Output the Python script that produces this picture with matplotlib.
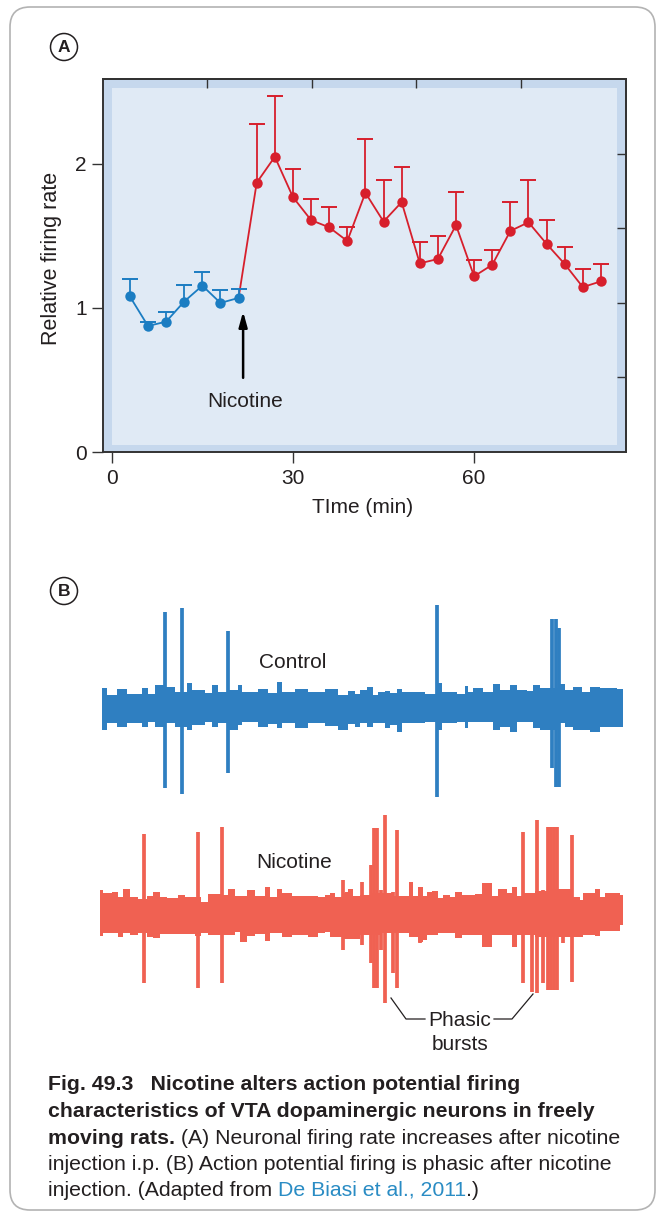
import matplotlib
matplotlib.use('Agg')
import matplotlib.pyplot as plt
from matplotlib.patches import Rectangle, FancyBboxPatch, Circle
import numpy as np

plt.rcParams['font.family'] = ['Liberation Sans', 'DejaVu Sans']

W, H, DPI = 659, 1218, 100

# ---------------- Panel A data ----------------
time_base = [3, 6, 9, 12, 15, 18, 21]
rate_base = [1.08, 0.875, 0.905, 1.045, 1.155, 1.035, 1.07]
err_base = [0.12, 0.025, 0.065, 0.115, 0.095, 0.09, 0.063]
time_nic = [24, 27, 30, 33, 36, 39, 42, 45, 48, 51, 54, 57, 60, 63, 66, 69, 72, 75, 78, 81]
rate_nic = [1.87, 2.05, 1.77, 1.61, 1.56, 1.465, 1.80, 1.60, 1.735, 1.31,
            1.34, 1.575, 1.22, 1.30, 1.535, 1.595, 1.445, 1.305, 1.145, 1.185]
err_nic = [0.41, 0.42, 0.195, 0.15, 0.14, 0.10, 0.37, 0.29, 0.245, 0.15,
           0.16, 0.23, 0.11, 0.105, 0.20, 0.295, 0.165, 0.115, 0.125, 0.12]
xticks_a = [0, 30, 60]
yticks_a = [0, 1, 2]
nicotine_time = 21.75

# ---------------- Panel B data (trace envelopes & spikes) ----------------
ctrl_edges = [7.3, 11.7, 21.7, 31.7, 46.7, 53.3, 60, 70, 80, 91.7, 96.7, 110, 116.7, 123.3,
              133.3, 143.3, 146.7, 163.3, 173.3, 181.7, 186.7, 200, 213.3, 230, 243.3, 253.3,
              260, 265, 271.7, 278.3, 283.3, 290, 295, 301.7, 306.7, 315, 330, 336.7, 341.7,
              346.7, 361.7, 370, 373.3, 378.3, 388.3, 398.3, 405, 415, 421.7, 431.7, 438.3,
              445, 456.7, 465, 470, 478.3, 486.7, 495, 505, 521.7, 528.3]
ctrl_up = [22, 15, 21, 16, 22, 16, 25, 23, 18, 27, 20, 17, 25, 18, 20, 25, 18, 21, 17, 28,
           18, 21, 18, 21, 15, 19, 16,
           20, 23, 15, 18, 19, 17, 21, 18, 18, 16, 16, 27, 18, 16, 24, 18, 22, 18, 26, 20,
           25, 20, 19, 25, 22, 22, 26, 20, 23, 18, 23, 22, 21]
ctrl_lo = [20, 13, 17, 13, 17, 12, 17, 13, 17, 20, 15, 12, 17, 13, 20, 15, 12, 17, 14, 18,
           13, 18, 13, 16, 20, 14, 17,
           13, 17, 13, 13, 18, 15, 22, 13, 13, 12, 12, 20, 13, 12, 18, 12, 12, 12, 20, 17,
           22, 12, 12, 18, 20, 20, 13, 17, 20, 20, 22, 17, 17]
ctrl_spike_t = [70, 86.7, 133.3, 341.7, 457, 461, 464]
ctrl_spike_top = [98, 102, 79, 105, 91, 91, 82]
ctrl_spike_bot = [78, 84, 63, 87, 58, 77, 77]

nic_edges = [5, 8.3, 16.7, 23.3, 28.3, 35, 43.3, 51.7, 58.3, 65, 71.7, 83.3, 90, 100, 106,
             113.3, 123.3, 128.3, 133.3, 140, 145, 151.7, 160, 170, 175, 181.7, 186.7, 196.7,
             213.3, 223.3, 230, 235, 240, 246.7, 250, 253.3, 258.3,
             265, 275, 285, 298.3, 314.3, 318.3, 323.3, 328.3, 331.7, 336.7, 343.3, 348.3,
             355, 360, 366.7, 380, 386.7, 396.7, 403.3, 411.7, 416.7, 421.7, 426.7, 440,
             455, 478.3, 485, 488.3, 500, 505, 510, 525, 528.3]
nic_up = [23, 20, 21, 16, 24, 16, 14, 17, 21, 16, 15, 18, 16, 16, 11, 19, 19, 18, 24, 17,
          17, 23, 17, 26, 16, 24, 20, 17, 17, 16, 18, 20, 16, 20, 21, 24, 17,
          18, 20, 20, 17, 31, 17, 26, 17, 21, 22, 15, 18, 16, 21, 18, 19, 30, 17, 24, 20,
          26, 17, 20, 22, 24, 16, 13, 20, 24, 16, 20, 18]
nic_lo = [23, 20, 20, 24, 20, 22, 20, 24, 25, 21, 21, 21, 21, 23, 20, 22, 22, 22, 22, 19,
          29, 23, 21, 28, 20, 20, 24, 22, 24, 20, 19, 24, 24, 26, 26, 26, 26,
          22, 22, 20, 20, 24, 24, 29, 27, 22, 22, 20, 20, 20, 25, 22, 22, 34, 22, 22, 22,
          34, 22, 22, 24, 24, 24, 24, 22, 23, 18, 18, 12]
nic_spike_t = [49.3, 103.3, 126.7, 248.3, 266.7, 275.5, 278.5, 281.5, 286, 290, 297.5, 302,
               325, 428, 437, 442, 448, 453, 456, 459, 462, 468, 477]
nic_spike_top = [79, 81, 86, 33, 31, 48, 85, 85, 23, 98, 21, 83, 26, 81, 20, 93, 23, 86,
                 86, 86, 86, 23, 78]
nic_spike_bot = [70, 75, 70, 37, 32, 50, 75, 75, 37, 90, 60, 75, 30, 70, 79, 80, 70, 77,
                 77, 77, 77, 30, 69]

# ---------------- colours ----------------
BLUE = '#1b7dc2'
RED = '#d71f2c'
TRACE_BLUE = '#2f7fc1'
TRACE_RED = '#f06152'
TXT = '#231f20'
FRAME = '#333333'


def fx(px):
    return px / W


def fy(py):
    return 1 - py / H


fig = plt.figure(figsize=(W / DPI, H / DPI), dpi=DPI)
fig.patch.set_facecolor('white')

# outer rounded frame
fig.patches.append(FancyBboxPatch((0.10, 0.08), 6.45, 12.03,
                                  boxstyle='round,pad=0,rounding_size=0.2',
                                  transform=fig.dpi_scale_trans, facecolor='none',
                                  edgecolor='#b3b3b3', linewidth=1.2))

# panel labels
for cx, cy, lab in [(64, 47, 'A'), (64, 591, 'B')]:
    fig.patches.append(Circle((cx / DPI, (H - cy) / DPI), 0.135, transform=fig.dpi_scale_trans,
                              facecolor='white', edgecolor=TXT, linewidth=1.1))
    fig.text(fx(cx), fy(cy), lab, ha='center', va='center', fontsize=12.5,
             fontweight='bold', color=TXT)

# ---------------- Panel A ----------------
ax_l, ax_r, ax_t, ax_b = 102.7, 625.7, 79, 452
ax = fig.add_axes([fx(ax_l), fy(ax_b), (ax_r - ax_l) / W, (ax_b - ax_t) / H])
x0, x1 = -1.5, 85.1
ax.set_xlim(x0, x1)
ax.set_ylim(0, 2.59)
ax.set_facecolor('#c6d8ed')
aw, ah = ax_r - ax_l, ax_b - ax_t
ax.add_patch(Rectangle((9 / aw, 7 / ah), 1 - 18 / aw, 1 - 16 / ah, transform=ax.transAxes,
                       facecolor='#e0eaf5', edgecolor='none', zorder=0))


def upper_errorbars(axx, t, r, e, color, z):
    t = np.asarray(t, float)
    r = np.asarray(r, float)
    top = r + np.asarray(e, float)
    axx.vlines(t, r, top, color=color, lw=1.3, zorder=z)
    axx.plot(t, top, linestyle='none', marker='_', ms=11, mew=1.4, color=color, zorder=z)


ax.plot([time_base[-1]] + time_nic, [rate_base[-1]] + rate_nic, color=RED, lw=1.3, zorder=3)
upper_errorbars(ax, time_nic, rate_nic, err_nic, RED, 3)
ax.plot(time_nic, rate_nic, 'o', color=RED, ms=7.5, mew=0, zorder=4)
upper_errorbars(ax, time_base, rate_base, err_base, BLUE, 3)
ax.plot(time_base, rate_base, 'o-', color=BLUE, ms=7.5, mew=0, lw=1.3, zorder=5)

ax.annotate('', xy=(nicotine_time, 0.975), xytext=(nicotine_time, 0.515),
            arrowprops=dict(arrowstyle='-|>,head_length=0.9,head_width=0.25', color='black',
                            lw=1.8, shrinkA=0, shrinkB=0))
ax.text(nicotine_time + 0.4, 0.35, 'Nicotine', ha='center', va='center', fontsize=15,
        color=TXT)

for s in ax.spines.values():
    s.set_color(FRAME)
    s.set_linewidth(1.4)
ax.set_xticks(xticks_a)
ax.set_yticks(yticks_a)
ax.tick_params(direction='out', length=8, width=1, color=FRAME, labelsize=15,
               labelcolor=TXT)
ax.tick_params(axis='x', pad=4)
ax.tick_params(axis='y', pad=3.5)

secx = ax.secondary_xaxis('top', functions=(lambda v: (v - x0) / (x1 - x0),
                                            lambda f: x0 + f * (x1 - x0)))
secx.set_xticks([0.2, 0.4, 0.6, 0.8])
secx.set_xticklabels([])
secx.tick_params(direction='in', length=6.5, width=1, color=FRAME)
secx.spines['top'].set_color(FRAME)
secx.spines['top'].set_linewidth(1.4)
secy = ax.secondary_yaxis('right', functions=(lambda v: v / 2.59, lambda f: f * 2.59))
secy.set_yticks([0.2, 0.4, 0.6, 0.8])
secy.set_yticklabels([])
secy.tick_params(direction='in', length=6.5, width=1, color=FRAME)
secy.spines['right'].set_color(FRAME)
secy.spines['right'].set_linewidth(1.4)

fig.text(fx(52), fy(258), 'Relative firing rate', rotation=90, ha='center', va='center',
         fontsize=15.5, color=TXT)
fig.text(fx(363), fy(508), 'TIme (min)', ha='center', va='center', fontsize=15, color=TXT)


# ---------------- Panel B ----------------
def draw_trace(axb, edges, up, lo, st, stop, sbot, color):
    up_ext = list(up) + [up[-1]]
    lo_ext = [-v for v in lo] + [-lo[-1]]
    axb.fill_between(edges, lo_ext, up_ext, step='post', color=color, lw=0)
    axb.vlines(st, [-v for v in sbot], stop, color=color, lw=2.7)
    axb.set_xlim(0, 540)
    axb.axis('off')


ax_c = fig.add_axes([fx(95), fy(825), 540 / W, 230 / H])
ax_c.set_ylim(-115, 115)
draw_trace(ax_c, ctrl_edges, ctrl_up, ctrl_lo, ctrl_spike_t, ctrl_spike_top, ctrl_spike_bot,
           TRACE_BLUE)
ax_c.text(198, 48, 'Control', ha='center', va='center', fontsize=15, color=TXT)

ax_n = fig.add_axes([fx(95), fy(1053), 540 / W, 255 / H])
ax_n.set_ylim(-140, 115)
draw_trace(ax_n, nic_edges, nic_up, nic_lo, nic_spike_t, nic_spike_top, nic_spike_bot,
           TRACE_RED)
ax_n.text(199.5, 50, 'Nicotine', ha='center', va='center', fontsize=15, color=TXT)
ax_n.plot([296, 311, 330], [-85, -106, -106], color=TXT, lw=0.9, clip_on=False)
ax_n.plot([438, 417, 399], [-81, -106, -106], color=TXT, lw=0.9, clip_on=False)
ax_n.text(365, -107, 'Phasic', ha='center', va='center', fontsize=15, color=TXT)
ax_n.text(365, -132, 'bursts', ha='center', va='center', fontsize=15, color=TXT)

# ---------------- Caption ----------------
renderer = fig.canvas.get_renderer()
probe = fig.text(0, 0, 'injection i.p. (B) Action potential firing is phasic after nicotine',
                 fontsize=10)
pw = probe.get_window_extent(renderer).width
probe.remove()
cap_size = 10 * 566 / pw

caption_lines = [
    [('Fig. 49.3', 'bold', TXT), ('   Nicotine alters action potential firing', 'bold', TXT)],
    [('characteristics of VTA dopaminergic neurons in freely', 'bold', TXT)],
    [('moving rats.', 'bold', TXT), (' (A) Neuronal firing rate increases after nicotine', 'normal', TXT)],
    [('injection i.p. (B) Action potential firing is phasic after nicotine', 'normal', TXT)],
    [('injection. (Adapted from ', 'normal', TXT), ('De Biasi et al., 2011', 'normal', '#2a8cc4'),
     ('.)', 'normal', TXT)],
]
cap_y = [1085, 1111.5, 1138, 1164, 1190]
for yy, runs in zip(cap_y, caption_lines):
    xx = 48
    for txt, wt, col in runs:
        t = fig.text(fx(xx), fy(yy), txt, fontsize=cap_size, fontweight=wt, color=col,
                     ha='left', va='center')
        xx = t.get_window_extent(renderer).x1

fig.savefig('out.png', dpi=DPI, facecolor='white')
